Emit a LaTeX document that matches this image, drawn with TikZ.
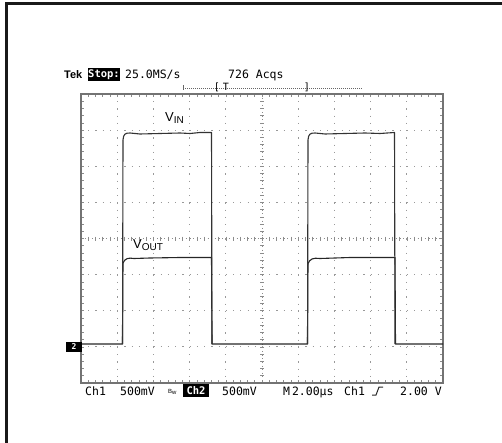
\documentclass[tikz,border=0pt]{standalone}
\usepackage{fontspec}
\setmainfont{Liberation Sans}
\newfontfamily\scopefont{DejaVu Sans Mono}
\begin{document}
\begin{tikzpicture}[x=1pt,y=-1pt,
  frame/.style={line width=2.2pt,black!90},
  grat/.style={line width=1.3pt,black!55},
  vdots/.style={line width=1.2pt,black!40,dash pattern=on 1.2pt off 6.025pt},
  hdots/.style={line width=1.2pt,black!40,dash pattern=on 1.2pt off 6.04pt},
  cdots/.style={line width=0.8pt,black!45,dash pattern=on 1pt off 2.62pt},
  tick/.style={line width=0.6pt,black!45},
  tracein/.style={line width=1.1pt,black!80,line join=round},
  traceout/.style={line width=1.1pt,black!85,line join=round},
  lbl/.style={inner sep=0pt,anchor=base west,font=\fontsize{13}{13}\selectfont},
  stxt/.style={inner sep=0pt,anchor=base west,font=\scopefont\fontsize{11.5}{11.5}\selectfont},
  inv/.style={fill=black,text=white,inner sep=0pt,minimum height=13pt,font=\scopefont\bfseries\fontsize{10.5}{10.5}\selectfont},
  trig/.style={line width=0.6pt,black!60,dash pattern=on 1pt off 1pt}
]
\useasboundingbox (0,0) rectangle (502,443);
% outer frame
\coordinate (fa) at (6.5,443);
\coordinate (fb) at (6.5,3.5);
\coordinate (fc) at (502,3.5);
\draw[frame] (fa) -- (fb) -- (fc);
% dotted graticule lines
\foreach \i in {1,2,3,4,6,7,8,9}
  \draw[vdots] ({81+\i*36.2},94) -- ({81+\i*36.2},383);
\foreach \j in {1,2,3,5,6,7}
  \draw[hdots] (81,{94+\j*36.125}) -- (443,{94+\j*36.125});
% center lines
\draw[cdots] (262,94) -- (262,383);
\draw[cdots] (81,238.5) -- (443,238.5);
\foreach \k in {1,...,49}
  \draw[tick] ({81+\k*7.24},236.5) -- ({81+\k*7.24},240.5);
\foreach \k in {1,...,39}
  \draw[tick] (260,{94+\k*7.225}) -- (264,{94+\k*7.225});
% border ticks
\foreach \k in {1,...,49} {
  \draw[tick] ({81+\k*7.24},94) -- ({81+\k*7.24},97);
  \draw[tick] ({81+\k*7.24},383) -- ({81+\k*7.24},380);
}
\foreach \k in {1,...,39} {
  \draw[tick] (81,{94+\k*7.225}) -- (84,{94+\k*7.225});
  \draw[tick] (443,{94+\k*7.225}) -- (440,{94+\k*7.225});
}
% graticule border
\draw[grat] (81,94) rectangle (443,383);
% traces
\draw[traceout] (81,344) -- (122.5,344) -- (123,263) .. controls (125,258.5) and (128,257.5) .. (134,258.5)
  -- (150,258) -- (180,257.5) -- (211.5,257.5) -- (212,344) -- (307.5,344)
  -- (308,263.5) .. controls (310,259) and (313,257.5) .. (320,258.5) -- (350,257.5) -- (395,257.5)
  -- (395.5,344) -- (443,344);
\draw[tracein] (122.5,344) -- (123,140) .. controls (123.5,134) and (125,133) .. (130,133)
  -- (140,134) -- (160,133.5) -- (180,133) -- (190,133.5) -- (200,132.5) -- (211.5,132.5) -- (212,344);
\draw[tracein] (307.5,344) -- (308,140) .. controls (308.5,134) and (310,133) .. (315,133)
  -- (325,134) -- (345,133.5) -- (365,133) -- (380,133.5) -- (394.5,132.5) -- (395,344);
% trace labels
\node[lbl] (vin) at (165,122) {V\raisebox{-2pt}{\fontsize{10}{10}\selectfont IN}};
\node[lbl] (vout) at (133,248) {V\raisebox{-2pt}{\fontsize{10}{10}\selectfont OUT}};
% ground marker
\node[fill=black,text=white,minimum width=16pt,minimum height=10pt,inner sep=0pt,font=\scopefont\bfseries\fontsize{8}{8}\selectfont] (gnd) at (74,347) {2};
% header
\node[inner sep=0pt,anchor=base west,font=\bfseries\fontsize{11}{11}\selectfont] (tek) at (64,79) {Tek};
\node[inv,minimum width=32pt] (stop) at (104,74.5) {Stop:};
\node[stxt] (rate) at (125,79) {25.0MS/s};
\node[stxt] (acq) at (228,79) {726 Acqs};
% trigger bar
\coordinate (ta) at (183,88);
\coordinate (tb) at (362,88);
\draw[trig] (ta) -- (tb);
\draw[line width=0.6pt,black!60] (183,85.5) -- (183,90.5);
\node[inner sep=0pt,font=\scopefont\fontsize{10}{10}\selectfont] (lb) at (217,87) {[};
\node[inner sep=0pt,font=\scopefont\fontsize{10}{10}\selectfont] (tt) at (226,87) {T};
\node[inner sep=0pt,font=\scopefont\fontsize{10}{10}\selectfont] (rb) at (307,87) {]};
% footer
\node[stxt] (c1) at (85,395) {Ch1};
\node[stxt] (v1) at (120,395) {500mV};
\node[inner sep=0pt,anchor=base west,font=\fontsize{6}{6}\selectfont] (bw) at (168,393) {B\raisebox{-1.5pt}{w}};
\node[inv,minimum width=26pt] (c2) at (196,390.5) {Ch2};
\node[stxt] (v2) at (222,395) {500mV};
\node[stxt] (tb2) at (283,395) {M\,2.00µs};
\node[stxt] (c1b) at (344,395) {Ch1};
\coordinate (sa) at (372,395);
\coordinate (sb) at (376,395);
\coordinate (sc) at (379,387);
\coordinate (sd) at (383,387);
\draw[line width=1pt,black!85] (sa) -- (sb) -- (sc) -- (sd);
\node[stxt] (lev) at (400,395) {2.00 V};
\end{tikzpicture}
\end{document}
